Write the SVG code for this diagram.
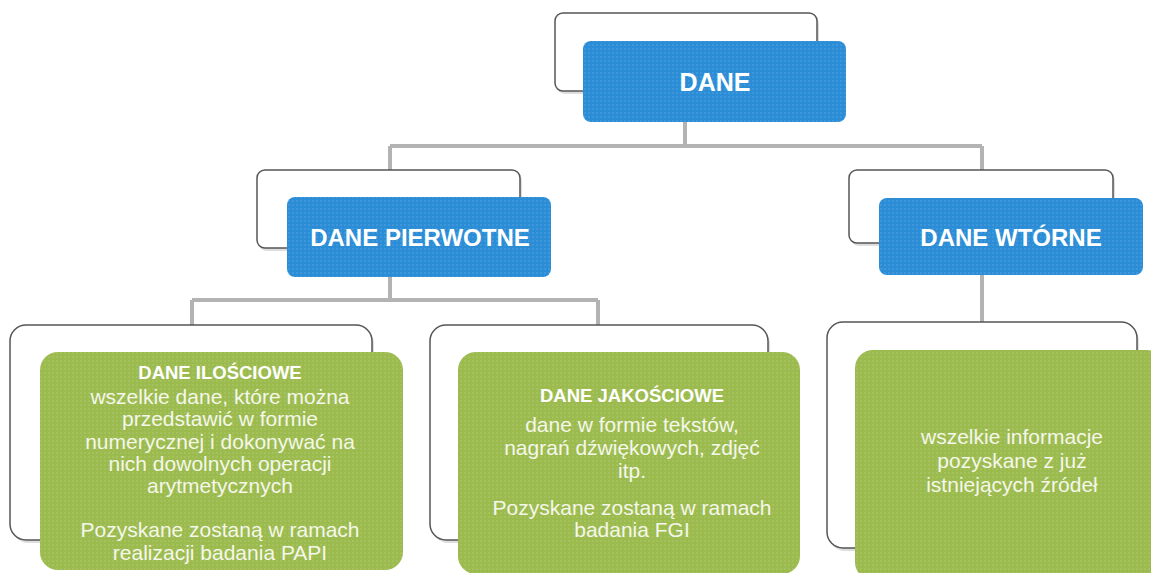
<svg xmlns="http://www.w3.org/2000/svg" width="1151" height="573" viewBox="0 0 1151 573">
<style>
.back{fill:#ffffff;stroke:#555555;stroke-width:1.5}
.shadow{fill:#c8c8c8;opacity:0.6}
.blue{fill:#2a8dd6}
.green{fill:#9cbb4e}
.conn{fill:none;stroke:#b3b3b3;stroke-width:4}
.ht{font-family:"Liberation Sans",Arial,sans-serif;font-weight:bold;fill:#ffffff;text-anchor:middle}
.gt{font-family:"Liberation Sans",Arial,sans-serif;fill:#f4f7ea;text-anchor:middle;font-size:21px}
.gh{font-family:"Liberation Sans",Arial,sans-serif;font-weight:bold;fill:#ffffff;text-anchor:middle;font-size:18.5px}
</style>
<defs>
<pattern id="dots" width="4" height="4" patternUnits="userSpaceOnUse">
<circle cx="1" cy="1" r="0.7" fill="#ffffff" opacity="0.25"/>
</pattern>
</defs>
<rect width="1151" height="573" fill="#ffffff"/>
<g id="connectors">
<path class="conn" d="M685 122 V146 M390 146 H982 M390 146 V172 M982 146 V172 M390 277 V300 M192 300 H598 M192 300 V327 M598 300 V327 M982 275 V324"/>
</g>
<g id="node-dane">
<rect class="shadow" x="557" y="16" width="262" height="78" rx="8"/>
<rect class="back" x="555" y="13" width="262" height="78" rx="8"/>
<rect class="blue" x="583" y="41" width="263" height="81" rx="8"/>
<rect fill="url(#dots)" x="583" y="41" width="263" height="81" rx="8"/>
<text class="ht" x="715" y="91" font-size="25">DANE</text>
</g>
<g id="node-pierwotne">
<rect class="shadow" x="259" y="173" width="263" height="78" rx="8"/>
<rect class="back" x="257" y="170" width="263" height="78" rx="8"/>
<rect class="blue" x="287" y="197" width="264" height="80" rx="8"/>
<rect fill="url(#dots)" x="287" y="197" width="264" height="80" rx="8"/>
<text class="ht" x="420" y="246" font-size="24">DANE PIERWOTNE</text>
</g>
<g id="node-wtorne">
<rect class="shadow" x="851" y="173" width="264" height="73" rx="8"/>
<rect class="back" x="849" y="170" width="264" height="73" rx="8"/>
<rect class="blue" x="879" y="198" width="264" height="77" rx="8"/>
<rect fill="url(#dots)" x="879" y="198" width="264" height="77" rx="8"/>
<text class="ht" x="1011" y="246" font-size="24">DANE WTÓRNE</text>
</g>
<g id="node-ilosciowe">
<rect class="shadow" x="12" y="328" width="362" height="215" rx="16"/>
<rect class="back" x="10" y="325" width="362" height="215" rx="16"/>
<rect class="green" x="40" y="352" width="363" height="218" rx="18"/>
<rect fill="url(#dots)" x="40" y="352" width="363" height="218" rx="18"/>
<text class="gh" x="220" y="379">DANE ILOŚCIOWE</text>
<text class="gt" x="220" y="404">wszelkie dane, które można</text>
<text class="gt" x="220" y="426">przedstawić w formie</text>
<text class="gt" x="220" y="449">numerycznej i dokonywać na</text>
<text class="gt" x="220" y="471">nich dowolnych operacji</text>
<text class="gt" x="220" y="493">arytmetycznych</text>
<text class="gt" x="220" y="537">Pozyskane zostaną w ramach</text>
<text class="gt" x="220" y="560">realizacji badania PAPI</text>
</g>
<g id="node-jakosciowe">
<rect class="shadow" x="432" y="328" width="338" height="215" rx="16"/>
<rect class="back" x="430" y="325" width="338" height="215" rx="16"/>
<rect class="green" x="458" y="352" width="342" height="222" rx="18"/>
<rect fill="url(#dots)" x="458" y="352" width="342" height="222" rx="18"/>
<text class="gh" x="632" y="402">DANE JAKOŚCIOWE</text>
<text class="gt" x="632" y="432">dane w formie tekstów,</text>
<text class="gt" x="632" y="455">nagrań dźwiękowych, zdjęć</text>
<text class="gt" x="632" y="478">itp.</text>
<text class="gt" x="632" y="515">Pozyskane zostaną w ramach</text>
<text class="gt" x="632" y="537">badania FGI</text>
</g>
<g id="node-zrodla">
<rect class="shadow" x="829" y="325" width="310" height="226" rx="16"/>
<rect class="back" x="827" y="322" width="310" height="226" rx="16"/>
<rect class="green" x="855" y="350" width="310" height="230" rx="18"/>
<rect fill="url(#dots)" x="855" y="350" width="310" height="230" rx="18"/>
<text class="gt" x="1012" y="444">wszelkie informacje</text>
<text class="gt" x="1012" y="468">pozyskane z już</text>
<text class="gt" x="1012" y="492">istniejących źródeł</text>
</g>
</svg>
